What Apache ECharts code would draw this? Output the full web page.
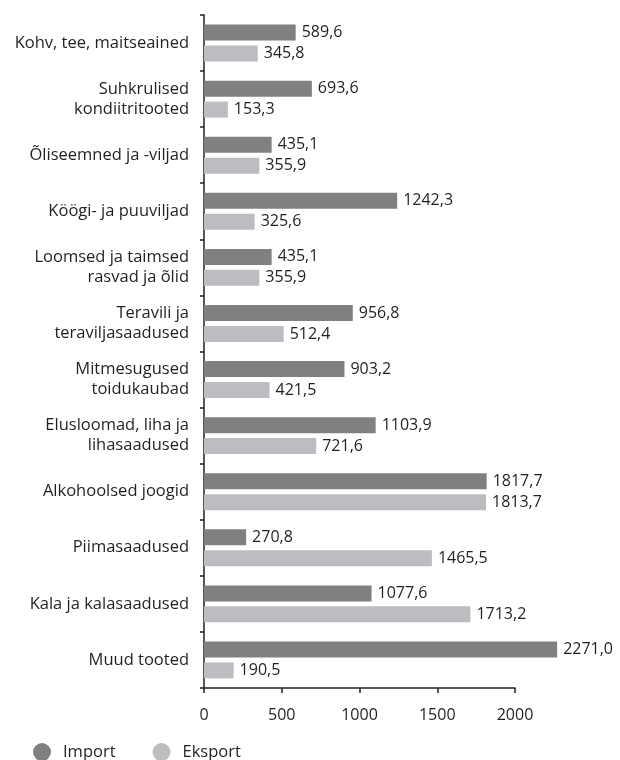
<!DOCTYPE html>
<html>
<head>
<meta charset="utf-8">
<script src="https://cdn.jsdelivr.net/npm/echarts@6/dist/echarts.min.js"></script>
<style>
  html, body { margin: 0; padding: 0; background: #ffffff; }
  #chart { width: 620px; height: 760px; }
</style>
</head>
<body>
<div id="chart"></div>
<script>
// Product groups, listed top to bottom
const categories = [
  'Kohv, tee, maitseained',
  'Suhkrulised\nkondiitritooted',
  'Õliseemned ja -viljad',
  'Köögi- ja puuviljad',
  'Loomsed ja taimsed\nrasvad ja õlid',
  'Teravili ja\nteraviljasaadused',
  'Mitmesugused\ntoidukaubad',
  'Elusloomad, liha ja\nlihasaadused',
  'Alkohoolsed joogid',
  'Piimasaadused',
  'Kala ja kalasaadused',
  'Muud tooted'
];
const importValues = [589.6, 693.6, 435.1, 1242.3, 435.1, 956.8, 903.2, 1103.9, 1817.7, 270.8, 1077.6, 2271.0];
const exportValues = [345.8, 153.3, 355.9, 325.6, 355.9, 512.4, 421.5, 721.6, 1813.7, 1465.5, 1713.2, 190.5];
const seriesNames = ['Import', 'Eksport'];
const xTicks = [0, 500, 1000, 1500, 2000];

const FONT = 'Open Sans';
const TEXT = '#231f20';

// Decimal comma, one decimal place
const fmt = v => v.toFixed(1).replace('.', ',');

const chart = echarts.init(document.getElementById('chart'), null, { renderer: 'canvas' });

const barLabel = {
  show: true,
  position: 'right',
  distance: 6,
  color: TEXT,
  fontFamily: FONT,
  fontSize: 16,
  formatter: p => fmt(p.value)
};

chart.setOption({
  animation: false,
  backgroundColor: '#ffffff',
  grid: { left: 204, top: 15, width: 311, height: 673, containLabel: false },
  xAxis: {
    type: 'value',
    min: xTicks[0],
    max: xTicks[xTicks.length - 1],
    interval: 500,
    axisLine: { show: true, lineStyle: { color: TEXT, width: 1.5 } },
    axisTick: { show: true, length: 5, lineStyle: { color: TEXT, width: 1.5 } },
    splitLine: { show: false },
    axisLabel: {
      color: TEXT, fontFamily: FONT, fontSize: 16, margin: 19,
      formatter: v => String(v)
    }
  },
  yAxis: {
    type: 'category',
    data: categories,
    inverse: true,
    axisLine: { show: true, lineStyle: { color: TEXT, width: 1.5 } },
    axisTick: { show: true, length: 4, lineStyle: { color: TEXT, width: 1.5 } },
    axisLabel: { color: TEXT, fontFamily: FONT, fontSize: 16.5, lineHeight: 20, margin: 15, align: 'right' }
  },
  legend: {
    left: 28,
    top: 738,
    icon: 'circle',
    itemWidth: 18,
    itemHeight: 18,
    itemGap: 37,
    textStyle: { color: TEXT, fontFamily: FONT, fontSize: 16.5, padding: [0, 0, 0, 7] },
    data: seriesNames
  },
  series: [
    {
      name: seriesNames[0],
      type: 'bar',
      data: importValues,
      barWidth: 16,
      barGap: '31%',
      clip: false,
      itemStyle: { color: '#808083' },
      label: barLabel
    },
    {
      name: seriesNames[1],
      type: 'bar',
      data: exportValues,
      barWidth: 16,
      clip: false,
      itemStyle: { color: '#bcbdc0' },
      label: barLabel
    }
  ]
});
</script>
</body>
</html>
